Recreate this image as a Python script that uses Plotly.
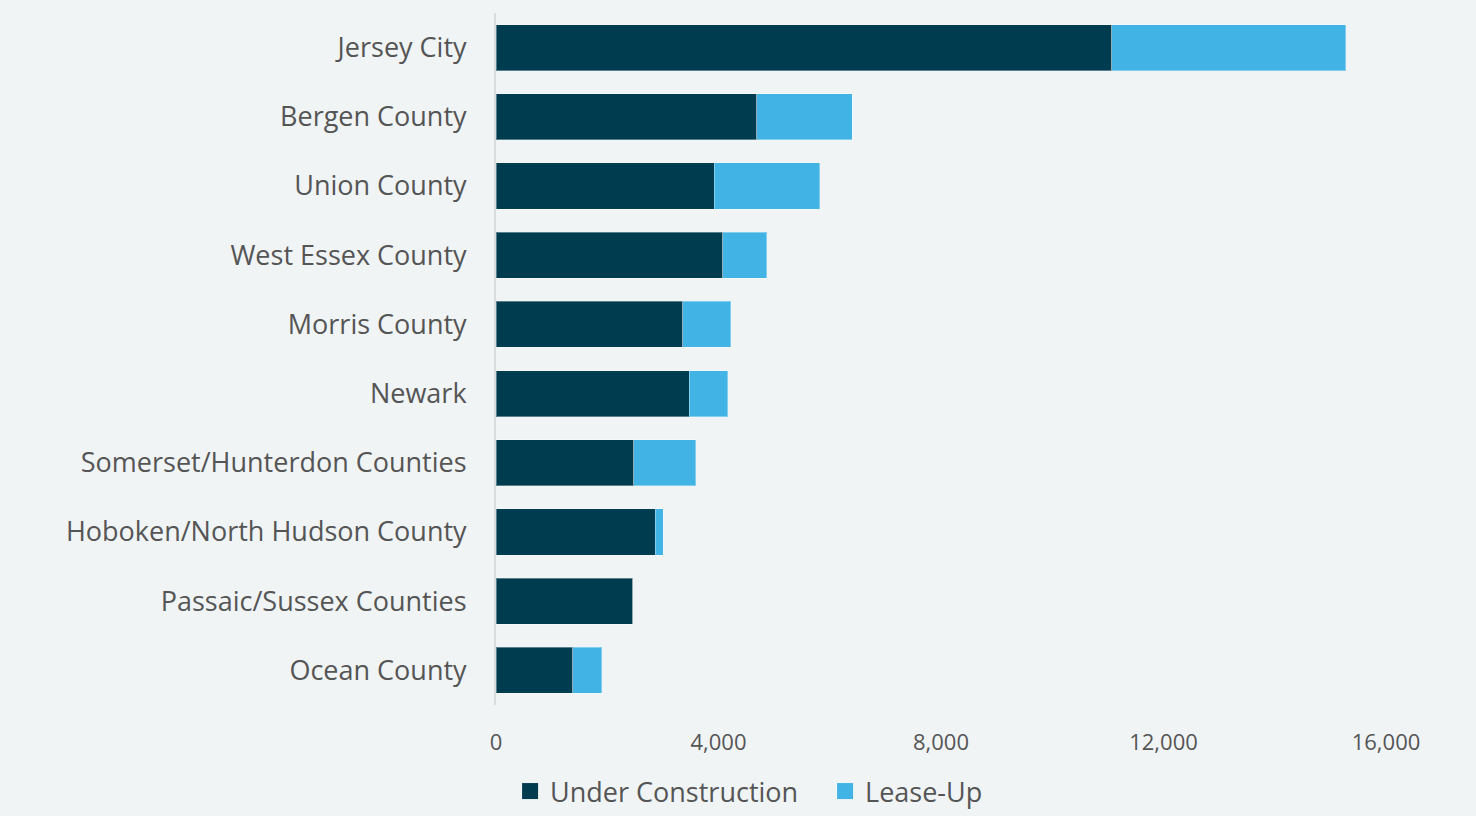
import plotly.graph_objects as go

categories = ["Jersey City", "Bergen County", "Union County", "West Essex County",
              "Morris County", "Newark", "Somerset/Hunterdon Counties",
              "Hoboken/North Hudson County", "Passaic/Sussex Counties", "Ocean County"]
under_construction = [11070, 4690, 3920, 4080, 3360, 3470, 2480, 2860, 2460, 1380]
lease_up = [4210, 1710, 1900, 790, 860, 700, 1110, 150, 0, 520]
series_names = ["Under Construction", "Lease-Up"]
tick_vals = [0, 4000, 8000, 12000, 16000]
tick_text = ["0", "4,000", "8,000", "12,000", "16,000"]

DARK = "#003C4F"
LIGHT = "#41B4E5"
BG = "#F0F4F5"
TXT = "#555555"
FONT = "Open Sans"

fig = go.Figure()
for vals, name, col in [(under_construction, series_names[0], DARK),
                        (lease_up, series_names[1], LIGHT)]:
    fig.add_trace(go.Bar(y=categories, x=vals, orientation="h", name=name,
                         showlegend=False,
                         marker=dict(color=col, line=dict(color="rgba(255,255,255,0.35)", width=1))))
# legend entries with larger square symbols
for name, col in [(series_names[0], DARK), (series_names[1], LIGHT)]:
    fig.add_trace(go.Scatter(x=[None], y=[None], mode="markers", name=name,
                             marker=dict(symbol="square", size=17, color=col)))

fig.update_layout(
    barmode="stack",
    bargap=0.335,
    width=1476, height=816,
    margin=dict(l=496, r=90, t=13, b=111),
    paper_bgcolor=BG, plot_bgcolor=BG,
    font=dict(family=FONT, color=TXT, size=24),
    showlegend=True,
    legend=dict(orientation="h", xref="container", x=0.559, xanchor="center",
                yref="container", y=-0.03, yanchor="bottom",
                font=dict(size=27, color=TXT), traceorder="normal",
                itemwidth=30, entrywidth=270, entrywidthmode="pixels",
                bgcolor="rgba(0,0,0,0)"),
    xaxis=dict(range=[0, 16000], tickvals=tick_vals, ticktext=tick_text,
               showgrid=False, zeroline=False, showline=False,
               tickfont=dict(size=22, color=TXT), ticks="", ticklabelstandoff=22),
    yaxis=dict(autorange="reversed", showgrid=False, zeroline=False,
               showline=True, linecolor="#D9DCDD", linewidth=2,
               ticks="", tickfont=dict(size=27, color=TXT), ticklabelstandoff=22),
)

fig.write_html("out.html")
